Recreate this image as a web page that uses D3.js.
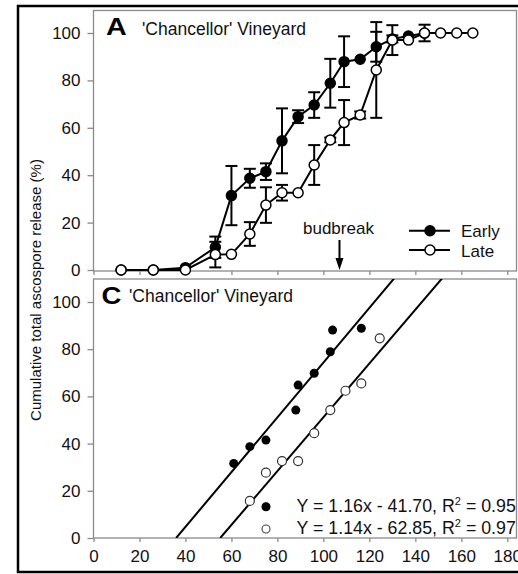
<!DOCTYPE html>
<html><head><meta charset="utf-8">
<script src="https://cdn.jsdelivr.net/npm/d3@7"></script>
<style>body{margin:0;background:#fff;}svg{display:block;font-family:"Liberation Sans",Arial,sans-serif;}</style>
</head><body>
<script>
// ---- data ----
const daysA = [12, 26, 40, 53, 60, 68, 75, 82, 89, 96, 103, 109, 116, 123, 130, 137, 144, 151, 158, 165];
const earlyA = [0, 0, 1, 9.6, 31.4, 38.7, 41.5, 54.5, 64.7, 69.6, 78.8, 87.9, 88.9, 94.2, 97.5, 98.7, 99.9];
const earlyErr = [0, 0, 0, 4.5, 12.5, 4, 3.5, 13.7, 2.7, 5.4, 10.3, 10.7, 0, 6.3, 1.5, 0, 0];
const lateA = [0, 0, 0, 6.5, 6.6, 15.2, 27.4, 32.6, 32.6, 44.3, 54.9, 62.2, 65.4, 84.4, 97, 97, 100, 100, 100, 100];
const lateErr = [0, 0, 0, 5.4, 0, 5, 7.5, 3.3, 0, 8.4, 1, 9.5, 1.5, 20.2, 6.3, 0, 3.5, 0, 0, 0];
const budbreakDay = 107;

const earlyCx = [61, 68, 75, 88, 89, 96, 103, 104, 116.5];
const earlyCy = [31.6, 38.7, 41.5, 54.2, 64.8, 69.8, 78.9, 88.1, 88.9];
const lateCx = [68, 75, 82, 89, 96, 103, 109.6, 116.5, 124.5];
const lateCy = [15.7, 27.7, 32.6, 32.6, 44.4, 54.2, 62.4, 65.5, 84.6];
const slopes = [1.16, 1.14];
const intercepts = [-41.70, -62.85];
const eqLabels = [["Y = 1.16x - 41.70, R", " = 0.95"], ["Y = 1.14x - 62.85, R", " = 0.97"]];

const yTicks = [0, 20, 40, 60, 80, 100];
const xTicks = [0, 20, 40, 60, 80, 100, 120, 140, 160, 180];
const seriesNames = ["Early", "Late"];

// ---- layout ----
const W = 518, H = 574;
const svg = d3.select("body").append("svg").attr("width", W).attr("height", H);

const x = d3.scaleLinear().domain([0, 184]).range([93.5, 516.5]);
const yA = d3.scaleLinear().domain([0, 100]).range([270, 33]);
const yC = d3.scaleLinear().domain([0, 100]).range([538, 302]);
const topA = 10.5, topC = 279;

const gray = "#8a8a8a";

// outer border
svg.append("rect").attr("x", 18).attr("y", 6).attr("width", 540).attr("height", 566)
  .attr("fill", "none").attr("stroke", "#000").attr("stroke-width", 2.5);

// panel frames
svg.append("rect").attr("x", x(0)).attr("y", topA).attr("width", x.range()[1] - x(0)).attr("height", yA(0) + 1 - topA)
  .attr("fill", "none").attr("stroke", gray).attr("stroke-width", 1.3);
svg.append("rect").attr("x", x(0)).attr("y", topC).attr("width", x.range()[1] - x(0)).attr("height", yC(0) - topC)
  .attr("fill", "none").attr("stroke", gray).attr("stroke-width", 1.3);

function styleAxis(g) {
  g.select(".domain").remove();
  g.selectAll(".tick line").attr("stroke", gray).attr("stroke-width", 1.3);
  g.selectAll(".tick text").attr("fill", "#111").style("font-size", "17px")
    .style("font-family", '"Liberation Sans",Arial,sans-serif');
}

// y axes
svg.append("g").attr("transform", `translate(${x(0)},0)`)
  .call(d3.axisLeft(yA).tickValues(yTicks).tickSize(6).tickPadding(7)).call(styleAxis);
svg.append("g").attr("transform", `translate(${x(0)},0)`)
  .call(d3.axisLeft(yC).tickValues(yTicks).tickSize(6).tickPadding(7)).call(styleAxis);

// x axes
svg.append("g").attr("transform", `translate(0,${yA(0) + 1})`)
  .call(d3.axisBottom(x).tickValues(xTicks).tickSize(4).tickFormat("")).call(styleAxis);
svg.append("g").attr("transform", `translate(0,${yC(0)})`)
  .call(d3.axisBottom(x).tickValues(xTicks).tickSize(4).tickPadding(8)).call(styleAxis);

// y title
svg.append("text").attr("transform", "translate(41,290) rotate(-90)")
  .attr("text-anchor", "middle").style("font-size", "15px").attr("fill", "#111")
  .text("Cumulative total ascospore release (%)");

// ---- panel A ----
function drawSeries(vals, errs, filled) {
  const pts = vals.map((v, i) => ({ d: daysA[i], v, e: errs[i] }));
  const g = svg.append("g");
  // error bars
  pts.filter(p => p.e > 0).forEach(p => {
    const cx = x(p.d), y1 = yA(p.v + p.e), y2 = yA(p.v - p.e);
    g.append("line").attr("x1", cx).attr("x2", cx).attr("y1", y1).attr("y2", y2).attr("stroke", "#000").attr("stroke-width", 2);
    [y1, y2].forEach(yy => g.append("line").attr("x1", cx - 6).attr("x2", cx + 6).attr("y1", yy).attr("y2", yy)
      .attr("stroke", "#000").attr("stroke-width", 2));
  });
  g.append("path").datum(pts)
    .attr("d", d3.line().x(p => x(p.d)).y(p => yA(p.v)))
    .attr("fill", "none").attr("stroke", "#000").attr("stroke-width", 2);
  g.selectAll("circle").data(pts).join("circle")
    .attr("cx", p => x(p.d)).attr("cy", p => yA(p.v)).attr("r", 5)
    .attr("fill", filled ? "#000" : "#fff").attr("stroke", "#000").attr("stroke-width", 1.5);
}
drawSeries(earlyA, earlyErr, true);
drawSeries(lateA, lateErr, false);

// titles
svg.append("text").attr("transform", "translate(106,35) scale(1.25,1)")
  .style("font-size", "23px").style("font-weight", "bold").attr("fill", "#000").text("A");
svg.append("text").attr("x", 142).attr("y", 34.5).style("font-size", "17.5px").attr("fill", "#111").text("'Chancellor' Vineyard");

// budbreak
svg.append("text").attr("x", 303).attr("y", 234).style("font-size", "17px").attr("fill", "#111").text("budbreak");
const bx = x(budbreakDay);
svg.append("line").attr("x1", bx).attr("x2", bx).attr("y1", 240).attr("y2", 262).attr("stroke", "#000").attr("stroke-width", 2);
svg.append("path").attr("d", `M${bx - 4},${258} L${bx},${270} L${bx + 4},${258} Z`).attr("fill", "#000");

// legend
seriesNames.forEach((n, i) => {
  const ly = 230.7 + i * 19.3;
  svg.append("line").attr("x1", 409).attr("x2", 450).attr("y1", ly).attr("y2", ly).attr("stroke", "#000").attr("stroke-width", 2);
  svg.append("circle").attr("cx", 430).attr("cy", ly).attr("r", 5)
    .attr("fill", i === 0 ? "#000" : "#fff").attr("stroke", "#000").attr("stroke-width", 1.5);
  svg.append("text").attr("x", 461).attr("y", ly + 6.5).style("font-size", "17px").attr("fill", "#111").text(n);
});

// ---- panel C ----
svg.append("defs").append("clipPath").attr("id", "clipC").append("rect")
  .attr("x", x(0)).attr("y", topC).attr("width", x.range()[1] - x(0)).attr("height", yC(0) - topC);
const yTopC = yC.invert(topC);
const gC = svg.append("g").attr("clip-path", "url(#clipC)");
slopes.forEach((s, i) => {
  const b = intercepts[i];
  const x0 = (0 - b) / s, x1 = (yTopC + 2 - b) / s;
  gC.append("line").attr("x1", x(x0)).attr("y1", yC(0)).attr("x2", x(x1)).attr("y2", yC(yTopC + 2))
    .attr("stroke", "#000").attr("stroke-width", 2);
});
gC.selectAll(".e").data(earlyCx.map((v, i) => [v, earlyCy[i]])).join("circle")
  .attr("cx", d => x(d[0])).attr("cy", d => yC(d[1])).attr("r", 4.5).attr("fill", "#000");
gC.selectAll(".l").data(lateCx.map((v, i) => [v, lateCy[i]])).join("circle")
  .attr("cx", d => x(d[0])).attr("cy", d => yC(d[1])).attr("r", 4.5).attr("fill", "#fff")
  .attr("stroke", "#333").attr("stroke-width", 1.2);

svg.append("text").attr("transform", "translate(101.5,303.5) scale(1.2,1)")
  .style("font-size", "23px").style("font-weight", "bold").attr("fill", "#000").text("C");
svg.append("text").attr("x", 129).attr("y", 302).style("font-size", "17.5px").attr("fill", "#111").text("'Chancellor' Vineyard");

eqLabels.forEach((lab, i) => {
  const by = 511.7 + i * 22.3;
  svg.append("circle").attr("cx", 266).attr("cy", by - 5).attr("r", 4)
    .attr("fill", i === 0 ? "#000" : "#fff").attr("stroke", i === 0 ? "#000" : "#444").attr("stroke-width", 1.1);
  const t = svg.append("text").attr("x", 296.5).attr("y", by).style("font-size", "17.8px").attr("fill", "#111");
  t.append("tspan").text(lab[0]);
  t.append("tspan").attr("dy", -7).style("font-size", "11px").text("2");
  t.append("tspan").attr("dy", 7).text(lab[1]);
});
</script>
</body></html>
